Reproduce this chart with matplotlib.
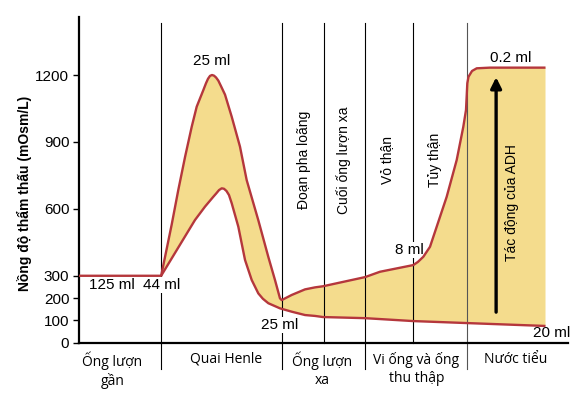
import numpy as np
import matplotlib.pyplot as plt

# positions along the nephron (arbitrary 0-100 scale) and osmolarity (mOsm/L)
upper_x = [0, 16.8, 18.96, 20.3, 21.7, 23.05, 24.07, 25.42, 25.97, 26.38, 26.79,
           27.2, 27.61, 28.02, 28.49, 29.04, 29.86, 31.23, 32.92, 34.29, 36.67,
           38.71, 40.08, 41.1, 41.45,
           43.5, 46.22, 48.26, 49.9, 58.49, 61.55, 68.36, 69.3, 70.41, 71.78, 73.15,
           75.19, 77.24, 78.59, 79.14, 79.41, 79.65, 80.37, 81.33, 84.05, 95.4]
upper_y = [300, 300, 530, 684, 834, 968, 1058, 1132, 1163, 1183, 1196,
           1200, 1197, 1189, 1175, 1150, 1112, 1013, 879, 729, 549,
           385, 281, 199, 191,
           214, 239, 248, 253, 294, 318, 348, 362, 385, 430, 520,
           654, 819, 968, 1043, 1163, 1192, 1218, 1230, 1233, 1233]

lower_x = [16.8, 23.72, 25.77, 27.46, 28.02, 28.63, 29.18, 29.65, 30.16, 30.67,
           31.23, 32.58, 33.95, 35.32, 36.67, 37.6, 38.71, 41.1, 43.5, 46.22,
           48.26, 49.9, 58.49, 68.3, 79.35, 95.4]
lower_y = [300, 550, 610, 654, 668, 684, 692, 690, 680, 662,
           625, 520, 371, 281, 221, 197, 177, 154, 139, 124,
           120, 115, 110, 97, 88, 75]

boundaries = [16.8, 41.5, 50.1, 58.5, 68.3, 79.3]
long_bounds = [16.8, 41.5, 58.5, 79.3]

segments = ["Ống lượn\ngần", "Quai Henle", "Ống lượn\nxa", "Vi ống và ống\nthu thập", "Nước tiểu"]
segment_x = [6.8, 30.0, 49.7, 69.0, 89.4]

zones = ["Đoạn pha loãng", "Cuối ống lượn xa", "Vỏ thận", "Tủy thận"]
zone_x = [46.0, 54.2, 62.9, 72.7]

volumes = [("125 ml", 6.8, 258), ("44 ml", 16.8, 258), ("25 ml", 27.2, 1262),
           ("25 ml", 41.1, 79), ("8 ml", 67.5, 415), ("0.2 ml", 88.2, 1278),
           ("20 ml", 96.6, 42)]

yticks = [0, 100, 200, 300, 600, 900, 1200]

red = '#B5373C'
fill_col = '#F4DC8D'

fig = plt.figure(figsize=(5.87, 3.99), dpi=100)
ax = fig.add_axes([79/587, (399-342.7)/399, 489/587, 325.7/399])
ax.set_xlim(0, 100)
ax.set_ylim(0, 1460)

poly_x = [x for x in upper_x if x >= 16.8] + lower_x[::-1]
poly_y = [y for x, y in zip(upper_x, upper_y) if x >= 16.8] + lower_y[::-1]
ax.fill(poly_x, poly_y, color=fill_col, lw=0, zorder=1)

for b in boundaries:
    ymin = -118 if b in long_bounds else 0
    col = '#555555' if b == 79.3 else 'black'
    ax.plot([b, b], [ymin, 1433], color=col, lw=0.8, clip_on=False, zorder=2)

ax.plot(upper_x, upper_y, color=red, lw=1.7, solid_capstyle='butt',
        solid_joinstyle='round', zorder=6)
ax.plot(lower_x, lower_y, color=red, lw=1.7, solid_capstyle='butt',
        solid_joinstyle='round', zorder=6)

ax.annotate('', xy=(85.3, 1190), xytext=(85.3, 137),
            arrowprops=dict(arrowstyle='-|>', lw=2.4, color='black', mutation_scale=16,
                            shrinkA=0, shrinkB=0), zorder=4)
ax.text(88.6, 628, "Tác động của ADH", rotation=90, ha='center', va='center',
        fontsize=10, family='Liberation Sans', zorder=5)

for t, x in zip(zones, zone_x):
    ax.text(x, 819, t, rotation=90, ha='center', va='center', fontsize=10,
            family='Liberation Sans', zorder=5)

for t, x, y in volumes:
    boxed = t in ("44 ml", "8 ml") or (t == "25 ml" and y < 200)
    ax.text(x, y, t, ha='center', va='center', fontsize=11, family='Liberation Sans',
            zorder=5,
            bbox=dict(facecolor='white', edgecolor='none', pad=0.5) if boxed else None)

for t, x in zip(segments, segment_x):
    ax.text(x, -0.028, t, transform=ax.get_xaxis_transform(), ha='center', va='top',
            fontsize=10, family='Open Sans', linespacing=1.25)

ax.text(-0.111, 0.458, "Nồng độ thẩm thấu (mOsm/L)", transform=ax.transAxes,
        rotation=90, ha='center', va='center', fontsize=10, fontweight='bold',
        family='Liberation Sans')

ax.set_yticks(yticks)
ax.set_yticklabels([str(v) for v in yticks], family='Liberation Sans', fontsize=11)
ax.set_xticks([])
ax.tick_params(axis='y', length=4, width=1, pad=3)
for s in ['top', 'right']:
    ax.spines[s].set_visible(False)
ax.spines['left'].set_linewidth(1.6)
ax.spines['bottom'].set_linewidth(1.6)

fig.savefig("out.png", dpi=100)
